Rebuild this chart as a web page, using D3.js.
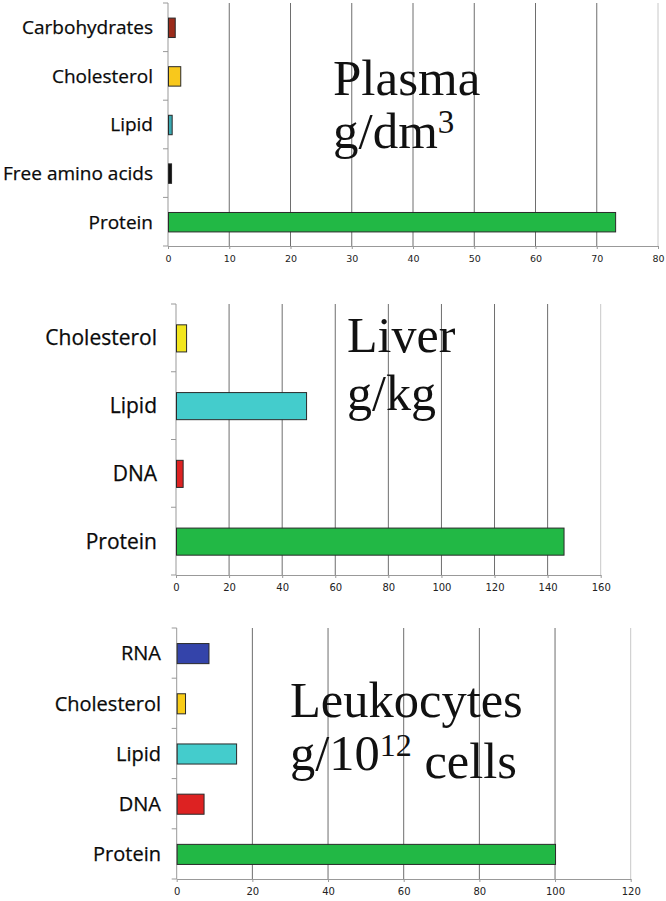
<!DOCTYPE html>
<html>
<head>
<meta charset="utf-8">
<script src="https://cdn.jsdelivr.net/npm/d3@7"></script>
<style>
  body { margin: 0; background: #fff; }
  .cat { font-family: "Open Sans", sans-serif; fill: #0a0a0a; stroke: #0a0a0a; stroke-width: 0.25px; }
  .tick text { font-family: "DejaVu Sans", sans-serif; fill: #222; }
  .title { font-family: "Liberation Serif", "Times New Roman", serif; fill: #111; }
</style>
</head>
<body>
<div id="chart"></div>
<script>
// plasma, g/dm3
const plasmaCategories = ["Carbohydrates", "Cholesterol", "Lipid", "Free amino acids", "Protein"];
const plasmaValues = [1.1, 2, 0.6, 0.5, 73];
const plasmaColors = ["#9b2b1b", "#f8c81c", "#3aa9b2", "#111111", "#22b845"];
const plasmaTicks = [0, 10, 20, 30, 40, 50, 60, 70, 80];

// liver, g/kg
const liverCategories = ["Cholesterol", "Lipid", "DNA", "Protein"];
const liverValues = [3.8, 49, 2.5, 146];
const liverColors = ["#f2e61e", "#44cccc", "#dd2222", "#22b845"];
const liverTicks = [0, 20, 40, 60, 80, 100, 120, 140, 160];

// leukocytes, g/10^12 cells
const leukoCategories = ["RNA", "Cholesterol", "Lipid", "DNA", "Protein"];
const leukoValues = [8.4, 2.2, 15.7, 7.1, 100];
const leukoColors = ["#3444aa", "#f8cc18", "#44cccc", "#dd2222", "#22b845"];
const leukoTicks = [0, 20, 40, 60, 80, 100, 120];

const W = 666, H = 901;

const svg = d3.select("#chart").append("svg")
  .attr("width", W)
  .attr("height", H);

function drawPanel(p) {
  const g = svg.append("g");
  const ticks = p.ticks;

  let x = d3.scaleLinear()
    .domain([0, ticks[ticks.length - 1]])
    .range([p.left, p.right]);

  let y = d3.scaleBand()
    .domain(p.categories)
    .range([p.top, p.bottom])
    .paddingInner(0.6)
    .paddingOuter(0.3);

  // vertical grid lines
  g.selectAll("line.grid")
    .data(ticks.slice(1))
    .enter()
    .append("line")
    .attr("class", "grid")
    .attr("x1", d => x(d)).attr("x2", d => x(d))
    .attr("y1", p.top).attr("y2", p.bottom)
    .style("stroke", (d, i) => i == ticks.length - 2 ? "#c8c8c8" : "#6e6e6e")
    .style("stroke-width", 1);

  // x axis along the bottom
  let xAxis = d3.axisBottom(x)
    .tickValues(ticks)
    .tickSize(3)
    .tickSizeOuter(0)
    .tickPadding(6);

  let ax = g.append("g")
    .attr("transform", `translate(0, ${p.bottom})`)
    .call(xAxis);
  ax.select(".domain").style("stroke", "#999");
  ax.selectAll(".tick line").style("stroke", "#999");
  ax.selectAll(".tick text").style("font-size", p.tickSize + "px");

  // y axis line with ticks at band boundaries
  g.append("line")
    .attr("x1", x(0)).attr("x2", x(0))
    .attr("y1", p.top).attr("y2", p.bottom)
    .style("stroke", "#999");

  let bounds = p.categories.map(c => y(c) - y.step() * y.paddingInner() / 2);
  bounds.push(p.bottom);
  g.selectAll("line.ytick")
    .data(bounds)
    .enter()
    .append("line")
    .attr("class", "ytick")
    .attr("x1", x(0) - 5).attr("x2", x(0))
    .attr("y1", d => d).attr("y2", d => d)
    .style("stroke", "#999");

  // bars
  g.selectAll("rect.bar")
    .data(p.values)
    .enter()
    .append("rect")
    .attr("class", "bar")
    .attr("x", x(0) + 0.5)
    .attr("y", (d, i) => y(p.categories[i]) + 0.5)
    .attr("width", d => x(d) - x(0))
    .attr("height", y.bandwidth())
    .style("fill", (d, i) => p.colors[i])
    .style("stroke", "#2a2a2a")
    .style("stroke-width", 1);

  // category labels
  g.selectAll("text.cat")
    .data(p.categories)
    .enter()
    .append("text")
    .attr("class", "cat")
    .attr("x", p.labelRight)
    .attr("y", d => y(d) + y.bandwidth() / 2)
    .attr("dy", "0.36em")
    .style("text-anchor", "end")
    .style("font-size", p.labelSize + "px")
    .text(d => d);

  // title, two lines
  let t1 = g.append("text")
    .attr("class", "title")
    .attr("x", p.titleX)
    .attr("y", p.titleY)
    .style("font-size", p.titleSize + "px")
    .text(p.title);

  let t2 = g.append("text")
    .attr("class", "title")
    .attr("x", p.titleX)
    .attr("y", p.titleY + p.lineGap)
    .style("font-size", p.titleSize + "px");
  t2.append("tspan").text(p.unit);
  t2.append("tspan")
    .attr("dy", "-0.45em")
    .style("font-size", Math.round(p.titleSize * 0.64) + "px")
    .text(p.sup);
  if (p.unitTail) {
    t2.append("tspan")
      .attr("dy", "0.45em")
      .text(p.unitTail);
  }
}

drawPanel({
  categories: plasmaCategories, values: plasmaValues, colors: plasmaColors, ticks: plasmaTicks,
  left: 168, right: 658, top: 3, bottom: 246,
  labelRight: 153, labelSize: 19, tickSize: 9.5,
  title: "Plasma", unit: "g/dm", sup: "3", unitTail: null,
  titleX: 333, titleY: 95, lineGap: 53, titleSize: 51
});

drawPanel({
  categories: liverCategories, values: liverValues, colors: liverColors, ticks: liverTicks,
  left: 176, right: 600.7, top: 304, bottom: 575,
  labelRight: 157, labelSize: 21, tickSize: 10,
  title: "Liver", unit: "g/kg", sup: "", unitTail: null,
  titleX: 347, titleY: 352, lineGap: 58, titleSize: 50
});

drawPanel({
  categories: leukoCategories, values: leukoValues, colors: leukoColors, ticks: leukoTicks,
  left: 176.7, right: 630.7, top: 628, bottom: 879,
  labelRight: 161, labelSize: 20, tickSize: 10,
  title: "Leukocytes", unit: "g/10", sup: "12", unitTail: " cells",
  titleX: 290, titleY: 717, lineGap: 53, titleSize: 50.5
});
</script>
</body>
</html>
